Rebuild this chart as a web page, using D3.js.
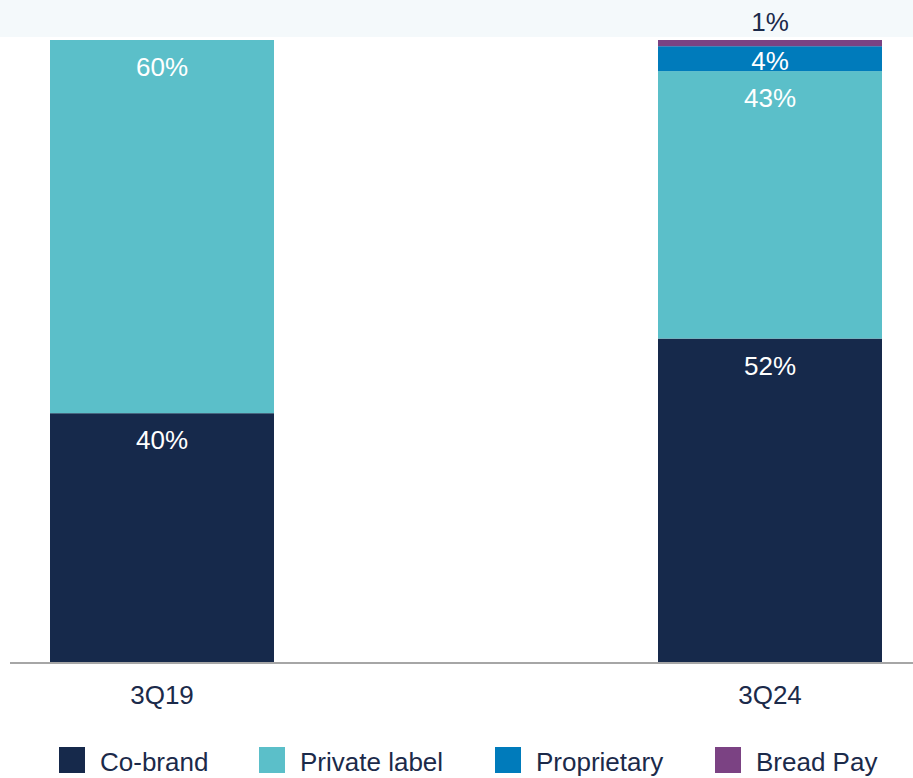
<!DOCTYPE html>
<html>
<head>
<meta charset="utf-8">
<script src="https://cdn.jsdelivr.net/npm/d3@7/dist/d3.min.js"></script>
<style>
  body { margin: 0; background: #fff; }
  svg { display: block; font-family: "Liberation Sans", Arial, sans-serif; }
</style>
</head>
<body>
<svg id="chart" width="913" height="778"></svg>
<script>
// Data
const periods = ['3Q19', '3Q24'];
const seriesNames = ['Co-brand', 'Private label', 'Proprietary', 'Bread Pay'];
const seriesColors = ['#16294b', '#5bbfc9', '#007bbb', '#7b4283'];
const coBrand = [40, 52];
const privateLabel = [60, 43];
const proprietary = [0, 4];
const breadPay = [0, 1];

const rows = periods.map((p, i) => ({
    period: p,
    'Co-brand': coBrand[i],
    'Private label': privateLabel[i],
    'Proprietary': proprietary[i],
    'Bread Pay': breadPay[i]
}));

const svg = d3.select('#chart');
const textColor = '#1b2a4a';

// faint band across the top
svg.append('rect').attr('x', 0).attr('y', 0).attr('width', 913).attr('height', 37)
    .attr('fill', '#f4f9fb');

const x = d3.scaleBand().domain(periods).range([50, 882]).paddingInner(384 / 608).paddingOuter(0);
const y = d3.scaleLinear().domain([0, 100]).range([662, 40]);
const color = d3.scaleOrdinal().domain(seriesNames).range(seriesColors);

const stacked = d3.stack().keys(seriesNames)(rows);

const g = svg.append('g');

// Bars
for (const layer of stacked) {
    g.selectAll(null).data(layer.filter(d => d[1] - d[0] > 0)).join('rect')
        .attr('x', d => x(d.data.period))
        .attr('y', d => y(d[1]))
        .attr('width', x.bandwidth())
        .attr('height', d => y(d[0]) - y(d[1]))
        .attr('fill', color(layer.key));
}

// Value labels
for (const layer of stacked) {
    for (const d of layer) {
        const v = d[1] - d[0];
        if (v <= 0) continue;
        const top = y(d[1]), bottom = y(d[0]);
        const small = bottom - top < 12;
        const ty = small ? top - 9 : Math.min(top + 36, bottom - 1);
        g.append('text')
            .attr('x', x(d.data.period) + x.bandwidth() / 2)
            .attr('y', ty)
            .attr('text-anchor', 'middle')
            .attr('font-size', 26)
            .attr('fill', small ? textColor : '#fff')
            .text(v + '%');
    }
}

// Baseline
svg.append('line').attr('x1', 10).attr('x2', 913)
    .attr('y1', y(0) + 1).attr('y2', y(0) + 1)
    .attr('stroke', '#a6a6a6').attr('stroke-width', 2);

// Category labels
const xAxis = d3.axisBottom(x).tickSize(0).tickPadding(0);
const ax = svg.append('g').attr('transform', `translate(0,${y(0)})`).call(xAxis);
ax.select('.domain').remove();
ax.selectAll('text')
    .attr('dy', null).attr('y', 42)
    .attr('font-size', 26).attr('font-family', '"Liberation Sans", Arial, sans-serif')
    .attr('fill', textColor);

// Legend
const legendX = [59, 259, 495, 715];
const legend = svg.append('g');
seriesNames.forEach((name, i) => {
    legend.append('rect').attr('x', legendX[i]).attr('y', 747)
        .attr('width', 26).attr('height', 26).attr('fill', color(name));
    legend.append('text').attr('x', legendX[i] + 41).attr('y', 771)
        .attr('font-size', 26).attr('fill', textColor).text(name);
});
</script>
</body>
</html>
